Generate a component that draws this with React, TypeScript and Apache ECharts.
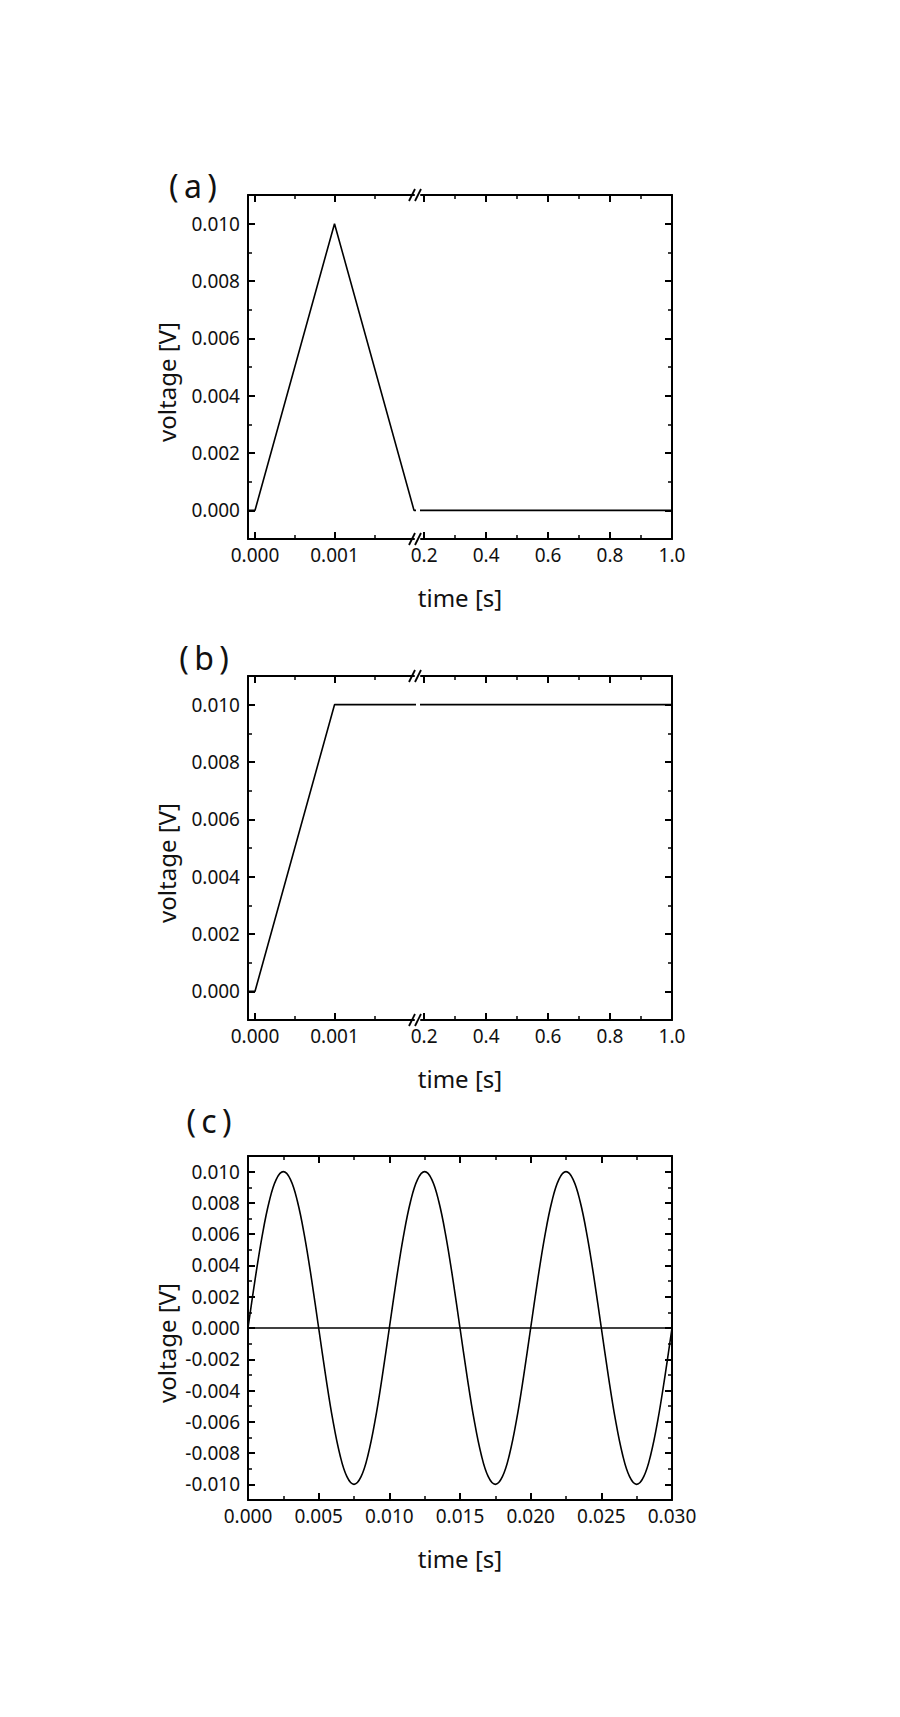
import { useEffect, useRef } from "react";
import * as echarts from "echarts";

// (a) triangular pulse, then zero for the rest of the second
const PULSE_T = [-0.0001, 0, 0.001, 0.002, 1.0];
const PULSE_V = [0, 0, 0.01, 0, 0];

// (b) ramp up to 10 mV and hold
const RAMP_T = [-0.0001, 0, 0.001, 1.0];
const RAMP_V = [0, 0, 0.01, 0.01];

// (c) 100 Hz sine, 10 mV amplitude, read every 0.5 ms
const SINE_T = [
  0, 0.0005, 0.001, 0.0015, 0.002, 0.0025, 0.003, 0.0035, 0.004, 0.0045,
  0.005, 0.0055, 0.006, 0.0065, 0.007, 0.0075, 0.008, 0.0085, 0.009, 0.0095,
  0.01, 0.0105, 0.011, 0.0115, 0.012, 0.0125, 0.013, 0.0135, 0.014, 0.0145,
  0.015, 0.0155, 0.016, 0.0165, 0.017, 0.0175, 0.018, 0.0185, 0.019, 0.0195,
  0.02, 0.0205, 0.021, 0.0215, 0.022, 0.0225, 0.023, 0.0235, 0.024, 0.0245,
  0.025, 0.0255, 0.026, 0.0265, 0.027, 0.0275, 0.028, 0.0285, 0.029, 0.0295,
  0.03,
];
const SINE_V = [
  0, 0.00309, 0.00588, 0.00809, 0.00951, 0.01, 0.00951, 0.00809, 0.00588, 0.00309,
  0, -0.00309, -0.00588, -0.00809, -0.00951, -0.01, -0.00951, -0.00809, -0.00588, -0.00309,
  0, 0.00309, 0.00588, 0.00809, 0.00951, 0.01, 0.00951, 0.00809, 0.00588, 0.00309,
  0, -0.00309, -0.00588, -0.00809, -0.00951, -0.01, -0.00951, -0.00809, -0.00588, -0.00309,
  0, 0.00309, 0.00588, 0.00809, 0.00951, 0.01, 0.00951, 0.00809, 0.00588, 0.00309,
  0, -0.00309, -0.00588, -0.00809, -0.00951, -0.01, -0.00951, -0.00809, -0.00588, -0.00309,
  0,
];
const ZERO_T = [0, 0.03];
const ZERO_V = [0, 0];

// tick values
const V_TICKS = [0, 0.002, 0.004, 0.006, 0.008, 0.01];
const V_MINOR = [0.001, 0.003, 0.005, 0.007, 0.009];
const SINE_V_TICKS = [-0.01, -0.008, -0.006, -0.004, -0.002, 0, 0.002, 0.004, 0.006, 0.008, 0.01];
const SINE_V_MINOR = [-0.009, -0.007, -0.005, -0.003, -0.001, 0.001, 0.003, 0.005, 0.007, 0.009];
const FAST_T_TICKS = [0, 0.001];
const FAST_T_MINOR = [0.0005, 0.0015];
const SLOW_T_TICKS = [0.2, 0.4, 0.6, 0.8, 1.0];
const SLOW_T_MINOR = [0.3, 0.5, 0.7, 0.9];
const SINE_T_TICKS = [0, 0.005, 0.01, 0.015, 0.02, 0.025, 0.03];
const SINE_T_MINOR = [0.0025, 0.0075, 0.0125, 0.0175, 0.0225, 0.0275];

const PANEL_TAGS = ["(\u2009a\u2009)", "(\u2009b\u2009)", "(\u2009c\u2009)"];
const X_TITLE = "time [s]";
const Y_TITLE = "voltage [V]";

// layout (pixels)
const PANEL_TOP = [195, 676, 1156];
const TAG_POS: [number, number][] = [[193, 185], [204, 657], [209, 1120]];
const PLOT_H = 344;
const LEFT = 248;
const RIGHT = 672;
const BREAK_L = 414; // right edge of the short-time part
const BREAK_R = 421; // left edge of the long-time part

const INK = "#000";
const TEXT = "#111";
const FONT = "'Noto Sans', 'Open Sans', sans-serif";

const fmt3 = (v: number) => v.toFixed(3);
const fmt1 = (v: number) => v.toFixed(1);

function valueAxis(
  gridIndex: number,
  position: string,
  min: number,
  max: number,
  ticks: number[],
  major: boolean,
  formatter?: (v: number) => string
) {
  const isX = position === "top" || position === "bottom";
  return {
    type: "value",
    gridIndex,
    position,
    min,
    max,
    axisLine: { show: major, onZero: false, lineStyle: { color: INK, width: 2 } },
    axisTick: {
      show: true,
      inside: true,
      length: major ? 7 : 4,
      customValues: ticks,
      lineStyle: { color: INK, width: major ? 2 : 1.5 },
    },
    axisLabel: formatter
      ? {
          show: true,
          customValues: ticks,
          formatter,
          margin: isX ? 6 : 8,
          color: TEXT,
          fontSize: 19,
          fontFamily: FONT,
        }
      : { show: false },
    splitLine: { show: false },
    minorTick: { show: false },
  };
}

function zip(t: number[], v: number[]) {
  return t.map((x, i) => [x, v[i]]);
}

function buildOption() {
  const grid: any[] = [];
  const xAxis: any[] = [];
  const yAxis: any[] = [];
  const series: any[] = [];
  const graphic: any[] = [];

  const addGrid = (left: number, width: number, top: number) => {
    grid.push({ left, top, width, height: PLOT_H, containLabel: false, outerBoundsMode: "none" });
    return grid.length - 1;
  };

  // bottom + top x axes, returns index of the labelled bottom axis
  const addX = (g: number, min: number, max: number, ticks: number[], minor: number[], f: (v: number) => string) => {
    const idx = xAxis.length;
    xAxis.push(valueAxis(g, "bottom", min, max, ticks, true, f));
    xAxis.push(valueAxis(g, "bottom", min, max, minor, false));
    xAxis.push(valueAxis(g, "top", min, max, ticks, true));
    xAxis.push(valueAxis(g, "top", min, max, minor, false));
    return idx;
  };

  const addY = (g: number, side: "left" | "right", min: number, max: number, ticks: number[], minor: number[]) => {
    const idx = yAxis.length;
    yAxis.push(valueAxis(g, side, min, max, ticks, true, side === "left" ? fmt3 : undefined));
    yAxis.push(valueAxis(g, side, min, max, minor, false));
    return idx;
  };

  const addLine = (xi: number, yi: number, data: number[][], smooth = false) => {
    series.push({
      type: "line",
      xAxisIndex: xi,
      yAxisIndex: yi,
      data,
      symbol: "none",
      showSymbol: false,
      smooth: smooth ? 0.4 : false,
      clip: true,
      silent: true,
      lineStyle: { color: INK, width: 1.6 },
    });
  };

  const centered = { align: "center", verticalAlign: "middle", textAlign: "center", textVerticalAlign: "middle" };

  const addTitles = (top: number, tag: string, tagPos: [number, number]) => {
    graphic.push({
      type: "text",
      x: (LEFT + RIGHT) / 2,
      y: top + PLOT_H + 58,
      style: { text: X_TITLE, fill: TEXT, font: `24px ${FONT}`, ...centered },
    });
    graphic.push({
      type: "text",
      x: 166,
      y: top + PLOT_H / 2 + 15,
      rotation: Math.PI / 2,
      style: { text: Y_TITLE, fill: TEXT, font: `24px ${FONT}`, ...centered },
    });
    graphic.push({
      type: "text",
      x: tagPos[0],
      y: tagPos[1],
      style: { text: tag, fill: TEXT, font: `32px ${FONT}`, ...centered },
    });
  };

  const addBreakMarks = (top: number) => {
    for (const y of [top, top + PLOT_H]) {
      for (const x0 of [409, 415]) {
        graphic.push({
          type: "line",
          shape: { x1: x0, y1: y + 6, x2: x0 + 6, y2: y - 6 },
          style: { stroke: INK, lineWidth: 1.8 },
        });
      }
    }
  };

  // broken-axis panels (a) and (b)
  const broken: [number[], number[]][] = [
    [PULSE_T, PULSE_V],
    [RAMP_T, RAMP_V],
  ];
  broken.forEach(([t, v], p) => {
    const top = PANEL_TOP[p];
    const data = zip(t, v);
    const gShort = addGrid(LEFT, BREAK_L - LEFT, top);
    const gLong = addGrid(BREAK_R, RIGHT - BREAK_R, top);
    const xs = addX(gShort, -0.0000883, 0.002, FAST_T_TICKS, FAST_T_MINOR, fmt3);
    const ys = addY(gShort, "left", -0.001, 0.011, V_TICKS, V_MINOR);
    const xl = addX(gLong, 0.19, 1.0, SLOW_T_TICKS, SLOW_T_MINOR, fmt1);
    const yl = addY(gLong, "right", -0.001, 0.011, V_TICKS, V_MINOR);
    addLine(xs, ys, data);
    addLine(xl, yl, data);
    addBreakMarks(top);
    addTitles(top, PANEL_TAGS[p], TAG_POS[p]);
  });

  // panel (c): sine
  {
    const top = PANEL_TOP[2];
    const g = addGrid(LEFT, RIGHT - LEFT, top);
    const xi = addX(g, 0, 0.03, SINE_T_TICKS, SINE_T_MINOR, fmt3);
    const yi = addY(g, "left", -0.011, 0.011, SINE_V_TICKS, SINE_V_MINOR);
    addY(g, "right", -0.011, 0.011, SINE_V_TICKS, SINE_V_MINOR);
    addLine(xi, yi, zip(ZERO_T, ZERO_V));
    addLine(xi, yi, zip(SINE_T, SINE_V), true);
    addTitles(top, PANEL_TAGS[2], TAG_POS[2]);
  }

  return {
    animation: false,
    backgroundColor: "#fff",
    textStyle: { fontFamily: FONT },
    grid,
    xAxis,
    yAxis,
    series,
    graphic: { elements: graphic },
  };
}

export default function App() {
  const chartRef = useRef<HTMLDivElement>(null);

  useEffect(() => {
    if (!chartRef.current) return;
    const chart = echarts.init(chartRef.current, undefined, { renderer: "svg" });
    chart.setOption(buildOption() as any);
    return () => chart.dispose();
  }, []);

  return (
    <div
      ref={chartRef}
      style={{ position: "absolute", left: 0, top: 0, width: 900, height: 1717, background: "#fff" }}
    />
  );
}
